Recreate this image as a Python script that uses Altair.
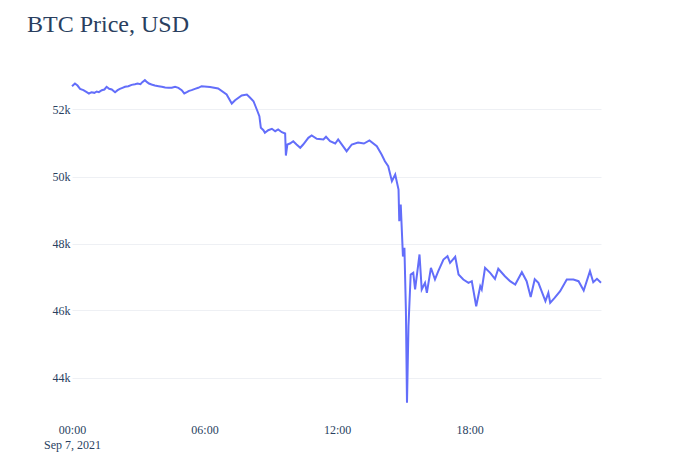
import altair as alt
import pandas as pd

# Morning plateau
times_a = ["00:00","00:08","00:15","00:22","00:31","00:40","00:46","00:53","01:01","01:07",
           "01:13","01:21","01:28","01:34","01:41","01:48","01:57","02:04","02:10","02:17",
           "02:24","02:33","02:42","02:51","02:58","03:06","03:11","03:18","03:24","03:29",
           "03:36","03:45","03:55","04:04","04:13","04:22","04:31","04:40","04:49","04:58",
           "05:05","05:12","05:18","05:25","05:34","05:43","05:52"]
prices_a = [52696,52776,52716,52617,52577,52517,52478,52517,52498,52537,
            52517,52577,52597,52677,52617,52597,52517,52577,52617,52647,
            52677,52696,52736,52756,52776,52756,52816,52876,52816,52776,
            52746,52716,52696,52677,52657,52647,52647,52677,52647,52577,
            52478,52517,52557,52577,52617,52647,52696]
# First step down and midday plateau
times_b = ["06:15","06:37","07:00","07:14","07:23","07:41","07:55","08:04","08:13","08:22",
           "08:29","08:33","08:40","08:44","08:53","09:03","09:12","09:20","09:30","09:39",
           "09:41","09:45","09:52","10:01","10:10","10:20","10:28","10:42","10:51","11:05",
           "11:23","11:30","11:41","11:55","12:03"]
prices_b = [52672,52627,52448,52179,52278,52418,52448,52349,52248,52000,
            51800,51454,51382,51304,51382,51424,51352,51403,51322,51284,
            50627,50955,50985,51054,50955,50857,50955,51155,51224,51125,
            51105,51185,51054,50985,51105]
# Crash and afternoon/evening
times_c = ["12:26","12:40","12:57","13:13","13:28","13:48","14:01",
           "14:10","14:19","14:29","14:38","14:47","14:49","14:53","14:59","15:03","15:07",
           "15:10","15:14","15:20","15:27","15:32","15:44","15:50","15:59","16:04","16:15",
           "16:26","16:35","16:49","17:00","17:07","17:21","17:30","17:43","17:57","18:06",
           "18:18","18:29","18:33","18:42","18:56","19:09","19:18","19:36","19:50","20:04",
           "20:22","20:35","20:46","20:57","21:07","21:26","21:34","21:39","21:51","22:06",
           "22:24","22:42","22:56","23:10","23:27","23:36","23:46","23:57"]
prices_c = [50755,50955,51015,50985,51075,50904,50657,
            50457,50307,49860,50060,49612,48666,49164,47612,47872,46030,
            43245,45531,47075,47125,46627,47672,46627,46827,46528,47275,
            46926,47173,47522,47621,47424,47603,47075,46926,46827,46875,
            46128,46725,46627,47275,47125,46946,47245,47024,46875,46776,
            47143,46875,46403,46934,46827,46278,46528,46230,46379,46576,
            46926,46926,46875,46597,47173,46845,46946,46827]

day = "2021-09-07"
y_ticks = [44000, 46000, 48000, 50000, 52000]
x_ticks = ["00:00", "06:00", "12:00", "18:00"]

times = times_a + times_b + times_c
prices = prices_a + prices_b + prices_c
df = pd.DataFrame({"time": [f"{day}T{t}:00" for t in times], "price": prices})

xvals = [alt.DateTime(year=2021, month=9, date=7, hours=int(t[:2]), minutes=0) for t in x_ticks]

font = "Liberation Serif"
col = "#2a3f5f"

chart = alt.Chart(df).mark_line(color="#636efa", strokeWidth=2).encode(
    x=alt.X("time:T", title=None,
            scale=alt.Scale(domain=[alt.DateTime(year=2021, month=9, date=7, hours=0, minutes=0),
                                    alt.DateTime(year=2021, month=9, date=7, hours=23, minutes=57)],
                            nice=False),
            axis=alt.Axis(values=xvals, grid=False, domain=False, ticks=False,
                          labelPadding=13, labelLineHeight=15, labelFont=font, labelFontSize=12,
                          labelColor=col, labelBaseline="top", labelFlush=False, labelAlign="center",
                          labelExpr="hours(datum.value) == 0 ? [timeFormat(datum.value, '%H:%M'), timeFormat(datum.value, '%b %-d, %Y')] : timeFormat(datum.value, '%H:%M')")),
    y=alt.Y("price:Q", title=None,
            scale=alt.Scale(domain=[43000, 53000], nice=False, zero=False),
            axis=alt.Axis(values=y_ticks, format="~s", grid=True, gridColor="#eef0f4", gridWidth=1,
                          domain=False, ticks=False, labelPadding=2, labelFont=font,
                          labelFontSize=12, labelColor=col)),
).properties(
    width=529, height=335,
    title=alt.TitleParams("BTC Price, USD", anchor="start", frame="group", dx=-45, offset=20,
                          baseline="alphabetic", font=font, fontSize=24, fontWeight="normal", color=col),
    autosize=alt.AutoSizeParams(type="none"),
    padding={"left": 64, "top": 68, "right": 85, "bottom": 55},
).configure_view(stroke=None)

chart.save("out.html", embed_options={"renderer": "svg", "actions": False})
